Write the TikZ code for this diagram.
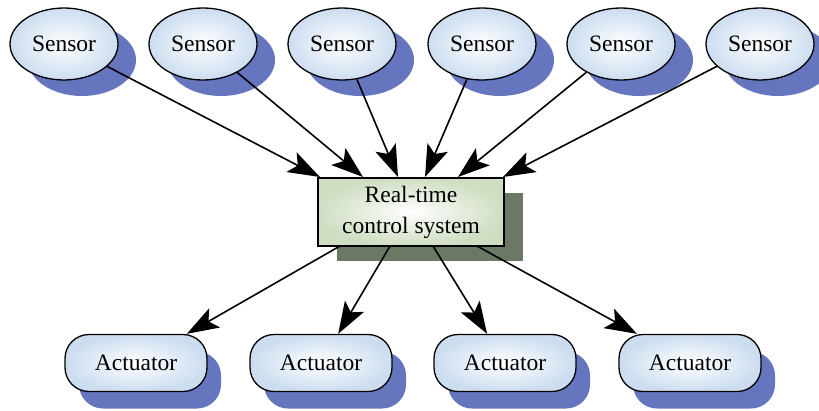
\documentclass[tikz,border=0pt]{standalone}
\usepackage{fontspec}
\setmainfont{Liberation Serif}
\usetikzlibrary{arrows.meta,shadows,calc,shapes.geometric}
\definecolor{shblue}{HTML}{6676BE}
\definecolor{shgreen}{HTML}{6B7863}
\definecolor{ellout}{HTML}{CCDDF0}
\definecolor{boxout}{HTML}{CFDEC2}
\tikzset{
  lbl/.style={font=\fontsize{23.5}{31}\selectfont, text=black},
  sensor/.style={lbl, ellipse, minimum width=108pt, minimum height=72pt, inner sep=0pt,
    draw=black, line width=1.3pt, shading=radial, inner color=white, outer color=ellout,
    preaction={draw=white, line width=4pt},
    drop shadow={shadow xshift=18pt, shadow yshift=-16pt, fill=shblue, opacity=1}},
  actuator/.style={lbl, rectangle, rounded corners=24pt, minimum width=142pt, minimum height=57pt, inner sep=0pt,
    draw=black, line width=1.3pt, shading=radial, inner color=white, outer color=ellout,
    preaction={draw=white, line width=4pt},
    drop shadow={shadow xshift=14pt, shadow yshift=-17pt, fill=shblue, opacity=1}},
  ctrl/.style={lbl, rectangle, minimum width=186pt, minimum height=68pt, inner sep=0pt, align=center,
    draw=black, line width=1.3pt, shading=radial, inner color=white, outer color=boxout,
    drop shadow={shadow xshift=19pt, shadow yshift=-15pt, fill=shgreen, opacity=1}},
  arr/.style={line width=1.6pt, -{Stealth[length=32pt,width=22pt,inset=7pt]}}
}
\begin{document}
\begin{tikzpicture}[x=1pt,y=-1pt]
\useasboundingbox (0,0) rectangle (819,410);
\node[sensor] (s1) at (64,44) {Sensor};
\node[sensor] (s2) at (203,44) {Sensor};
\node[sensor] (s3) at (342,44) {Sensor};
\node[sensor] (s4) at (482,44) {Sensor};
\node[sensor] (s5) at (621,44) {Sensor};
\node[sensor] (s6) at (760,44) {Sensor};
\node[ctrl] (rt) at (411,212) {Real-time\\control system};
\node[actuator] (a1) at (136,363) {Actuator};
\node[actuator] (a2) at (321,363) {Actuator};
\node[actuator] (a3) at (505,363) {Actuator};
\node[actuator] (a4) at (690,363) {Actuator};
\coordinate (t1) at (320,177);
\coordinate (t2) at (363,177);
\coordinate (t3) at (398,177);
\coordinate (t4) at (425,177);
\coordinate (t5) at (458,177);
\coordinate (t6) at (503,177);
\coordinate (b1) at (340,246);
\coordinate (b2) at (390,246);
\coordinate (b3) at (433,246);
\coordinate (b4) at (477,246);
\draw[arr] (s1) -- (t1);
\draw[arr] (s2) -- (t2);
\draw[arr] (s3) -- (t3);
\draw[arr] (s4) -- (t4);
\draw[arr] (s5) -- (t5);
\draw[arr] (s6) -- (t6);
\draw[arr] (b1) -- (a1);
\draw[arr] (b2) -- (a2);
\draw[arr] (b3) -- (a3);
\draw[arr] (b4) -- (a4);
\end{tikzpicture}
\end{document}
